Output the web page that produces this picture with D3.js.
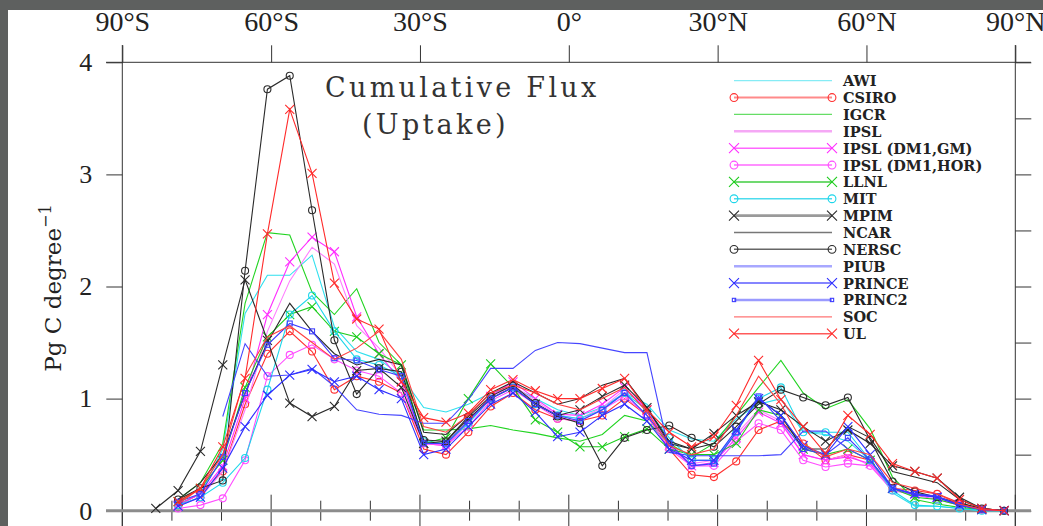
<!DOCTYPE html>
<html>
<head>
<meta charset="utf-8">
<script src="https://cdn.jsdelivr.net/npm/d3@7"></script>
<style>
  html, body { margin: 0; padding: 0; background: #5e605f; overflow: hidden; }
  svg { display: block; }
</style>
</head>
<body>
<div id="chart"></div>
<script>

// Latitude bin centres (4.5 degree bins).
const LATS = [-87.75, -83.25, -78.75, -74.25, -69.75, -65.25, -60.75, -56.25, -51.75, -47.25,
              -42.75, -38.25, -33.75, -29.25, -24.75, -20.25, -15.75, -11.25, -6.75, -2.25,
              2.25, 6.75, 11.25, 15.75, 20.25, 24.75, 29.25, 33.75, 38.25, 42.75,
              47.25, 51.75, 56.25, 60.75, 65.25, 69.75, 74.25, 78.75, 83.25, 87.75];

const MODELS = ["AWI", "CSIRO", "IGCR", "IPSL", "IPSL (DM1,GM)", "IPSL (DM1,HOR)", "LLNL", "MIT",
                "MPIM", "NCAR", "NERSC", "PIUB", "PRINCE", "PRINC2", "SOC", "UL"];

const MARKERS = ["none", "circle", "none", "none", "x", "circle", "x", "circle",
                 "x", "none", "circle", "none", "x", "square", "none", "x"];

const X_TICKS = [-90, -60, -30, 0, 30, 60, 90];
const X_LABELS = ["90°S", "60°S", "30°S", "0°", "30°N", "60°N", "90°N"];
const Y_TICKS = [0, 1, 2, 3, 4];

// Pg C per degree, one value per latitude bin (null = no data).
const AWI = [null,null,0.06,0.15,0.55,1.76,2.10,2.10,2.28,1.64,1.42,1.35,1.2,0.92,0.88,0.95,1.05,1.1,1.0,0.9,
             0.85,0.92,1.05,0.95,0.72,0.64,0.62,0.82,0.95,1.0,0.7,0.68,0.62,0.45,0.16,0.04,0.04,0.02,0.0,0.0];
const CSIRO = [null,null,0.05,0.15,0.35,0.95,1.4,1.6,1.42,1.08,1.2,1.15,1.05,0.55,0.5,0.7,0.93,1.05,0.9,0.82,
               0.8,0.85,1.0,0.85,0.55,0.32,0.3,0.44,0.72,0.8,0.6,0.45,0.5,0.45,0.2,0.18,0.15,0.07,0.01,0.0];
const IGCR = [null,null,0.1,0.25,0.6,1.85,2.48,2.46,1.95,1.75,1.98,1.5,1.3,0.72,0.72,0.73,0.76,0.72,0.69,0.65,
              0.62,0.68,0.85,0.8,0.6,0.48,0.6,0.85,1.1,1.34,1.05,0.91,0.99,0.73,0.3,0.1,0.06,0.03,0.01,0.0];
const IPSL = [null,null,0.04,0.12,0.35,0.9,1.6,2.05,2.35,2.2,1.65,1.45,1.2,0.62,0.58,0.78,1.0,1.12,0.98,0.85,
              0.82,0.92,1.08,0.92,0.6,0.42,0.45,0.68,0.9,0.8,0.5,0.45,0.5,0.4,0.2,0.14,0.12,0.05,0.01,0.0];
const IPSL_GM = [null,null,0.05,0.15,0.4,1.0,1.75,2.22,2.44,2.31,1.73,1.4,1.15,0.6,0.58,0.8,1.02,1.15,1.0,0.86,
                 0.85,0.95,1.1,0.9,0.58,0.4,0.43,0.65,0.88,0.78,0.5,0.45,0.48,0.42,0.2,0.15,0.12,0.06,0.01,0.0];
const IPSL_HOR = [null,null,0.02,0.05,0.11,0.45,1.2,1.39,1.48,1.35,1.25,1.2,1.05,0.6,0.58,0.75,0.98,1.08,0.95,0.82,
                  0.8,0.9,1.02,0.85,0.55,0.4,0.4,0.62,0.78,0.72,0.45,0.39,0.42,0.4,0.18,0.14,0.1,0.05,0.01,0.0];
const LLNL = [null,null,0.08,0.2,0.45,1.1,1.55,1.75,1.82,1.6,1.55,1.4,1.3,0.6,0.65,1.0,1.31,1.1,0.81,0.7,
              0.57,0.57,0.66,0.73,0.55,0.5,0.5,0.6,0.9,0.85,0.55,0.5,0.55,0.45,0.2,0.12,0.1,0.05,0.01,0.0];
const MIT = [null,null,0.05,0.12,0.25,0.47,1.08,1.75,1.92,1.6,1.35,1.3,1.2,0.62,0.6,0.78,1.0,1.1,0.95,0.85,
             0.82,0.9,1.05,0.9,0.65,0.45,0.45,0.7,1.0,1.1,0.7,0.7,0.7,0.45,0.18,0.05,0.04,0.02,0.0,0.0];
const MPIM = [null,0.02,0.18,0.53,1.30,2.06,1.52,0.96,0.84,0.93,1.25,1.27,1.1,0.6,0.62,0.82,1.0,1.1,0.95,0.85,
              0.9,1.02,1.12,0.92,0.62,0.55,0.69,0.85,0.97,0.9,0.75,0.62,0.72,0.6,0.4,0.35,0.29,0.12,0.02,0.0];
const NCAR = [null,null,0.1,0.25,0.5,1.05,1.5,1.85,1.6,1.4,1.3,1.35,1.3,0.7,0.68,0.85,1.05,1.15,1.05,0.95,
              1.0,1.12,1.18,0.92,0.6,0.55,0.6,0.8,1.0,0.85,0.55,0.55,0.75,0.65,0.35,0.3,0.25,0.1,0.02,0.0];
const NERSC = [null,null,0.1,0.2,0.27,2.14,3.76,3.88,2.68,1.52,1.04,1.27,1.24,0.63,0.62,0.84,1.02,1.12,0.96,0.84,
               0.78,0.40,0.65,0.72,0.76,0.65,0.57,0.75,0.95,1.08,1.01,0.94,1.01,0.63,0.26,0.17,0.12,0.07,0.02,0.0];
const PIUB = [null,null,null,null,0.84,1.49,1.2,1.21,1.27,1.11,0.9,0.86,0.85,0.78,0.78,0.99,1.27,1.27,1.43,1.5,
              1.49,1.45,1.41,1.41,0.52,0.49,0.49,0.49,0.49,0.5,0.71,0.71,0.55,0.45,0.2,0.14,0.12,0.05,0.01,0.0];
const PRINCE = [null,null,0.04,0.12,0.38,0.75,1.03,1.21,1.26,1.15,1.2,1.08,1.0,0.5,0.55,0.75,0.95,1.05,0.88,0.66,
                0.7,0.85,0.95,0.8,0.55,0.45,0.45,0.72,1.0,0.85,0.58,0.5,0.75,0.5,0.2,0.15,0.12,0.05,0.01,0.0];
const PRINC2 = [null,null,0.08,0.15,0.48,1.05,1.48,1.67,1.6,1.36,1.34,1.26,1.2,0.6,0.6,0.8,1.0,1.1,0.95,0.85,
                0.8,0.9,1.05,0.85,0.6,0.4,0.42,0.7,1.02,0.8,0.55,0.5,0.65,0.45,0.2,0.15,0.13,0.05,0.01,0.0];
const SOC = [null,null,0.06,0.2,0.5,1.2,1.55,1.65,1.5,1.35,1.45,1.6,1.35,0.75,0.7,0.85,1.05,1.12,1.05,0.95,
             0.9,1.0,1.1,0.88,0.58,0.5,0.55,0.85,1.2,0.95,0.6,0.48,0.55,0.5,0.25,0.2,0.15,0.06,0.01,0.0];
const UL = [null,null,0.08,0.2,0.57,1.18,2.47,3.58,3.01,2.03,1.71,1.62,1.15,0.83,0.79,0.87,1.08,1.17,1.07,1.0,
            1.0,1.09,1.18,0.9,0.7,0.57,0.66,0.94,1.34,0.99,0.75,0.51,0.85,0.68,0.42,0.35,0.29,0.1,0.02,0.0];

const SERIES = [AWI, CSIRO, IGCR, IPSL, IPSL_GM, IPSL_HOR, LLNL, MIT, MPIM, NCAR, NERSC, PIUB, PRINCE, PRINC2, SOC, UL];

const WIDTH = 1043;
const HEIGHT = 526;

// colours: plot line, legend line, legend line width
const COLORS = ["#2fe0ee", "#ff3030", "#22d422", "#ff7cff", "#ff2eff", "#ff4cff", "#1ccc1c", "#1cd6ea",
                "#2a2a2a", "#2a2a2a", "#2a2a2a", "#4646ff", "#2e2eff", "#3d3dff", "#ff4040", "#ff2a2a"];
const LEG_COLORS = ["#86ecf5", "#ff8a8a", "#66dd66", "#f5a8f5", "#ff66ff", "#ff6aff", "#40cc40", "#4cdcee",
                    "#9a9a9a", "#777777", "#666666", "#a8a8ff", "#5c5cff", "#9a9aff", "#ff7474", "#ff5a5a"];
const LEG_WIDTHS = [1.3, 2, 1.3, 2.5, 1.5, 1.5, 1.5, 1.5, 2.8, 1.3, 1.5, 2.5, 1.5, 2.6, 1.3, 1.5];


window.onload = function() {

    var svg = d3.select("#chart").append("svg")
                .attr("width", WIDTH)
                .attr("height", HEIGHT);

    // white paper inside the dark frame
    svg.append("rect")
       .attr("x", 8).attr("y", 10)
       .attr("width", WIDTH - 8).attr("height", HEIGHT - 10)
       .attr("fill", "#ffffff");

    var x = d3.scaleLinear().domain([-90, 90]).range([122.3, 1015.3]);
    var y = d3.scaleLinear().domain([0, 4]).range([510.7, 62.3]);

    var tickColor = "#333";

    // ---- top axis (labels + ticks going up)
    var top = svg.append("g").attr("transform", "translate(0," + y(4) + ")");
    top.call(d3.axisTop(x).tickValues(d3.range(-90, 91, 10)).tickSize(9).tickFormat(""));
    top.call(d3.axisTop(x).tickValues(X_TICKS).tickSize(17).tickPadding(14)
            .tickFormat(function (d, i) { return X_LABELS[i]; }));
    top.selectAll(".domain").remove();
    top.selectAll("line").attr("stroke", tickColor);
    top.selectAll("text")
       .attr("font-family", "Liberation Serif")
       .attr("font-size", "28px")
       .attr("fill", "#222");

    // ---- bottom ticks crossing the zero line
    var bottom = svg.append("g").attr("transform", "translate(0," + y(0) + ")");
    bottom.selectAll("line.minor")
          .data(d3.range(-80, 90, 10).filter(function (d) { return d % 30 != 0; }))
          .enter().append("line")
          .attr("x1", function (d) { return x(d); }).attr("x2", function (d) { return x(d); })
          .attr("y1", -10).attr("y2", 10)
          .attr("stroke", tickColor);
    bottom.selectAll("line.major")
          .data(X_TICKS)
          .enter().append("line")
          .attr("x1", function (d) { return x(d); }).attr("x2", function (d) { return x(d); })
          .attr("y1", -16).attr("y2", 16)
          .attr("stroke", tickColor);

    // ---- left axis
    var left = svg.append("g").attr("transform", "translate(" + x(-90) + ",0)");
    left.call(d3.axisLeft(y).tickValues(d3.range(0, 40).map(function (d) { return d / 10; })).tickSize(9).tickFormat(""));
    left.call(d3.axisLeft(y).tickValues([0.5, 1.5, 2.5, 3.5]).tickSize(16).tickFormat(""));
    left.call(d3.axisLeft(y).tickValues(Y_TICKS).tickSize(16).tickPadding(14).tickFormat(d3.format("d")));
    left.selectAll(".domain").remove();
    left.selectAll("line").attr("stroke", tickColor);
    left.selectAll("text")
        .attr("font-family", "Liberation Serif")
        .attr("font-size", "26px")
        .attr("fill", "#222");

    // ---- right axis (ticks outward)
    var right = svg.append("g").attr("transform", "translate(" + x(90) + ",0)");
    right.call(d3.axisRight(y).tickValues(d3.range(0, 40).map(function (d) { return d / 10; })).tickSize(7).tickFormat(""));
    right.call(d3.axisRight(y).tickValues([0, 0.5, 1, 1.5, 2, 2.5, 3, 3.5, 4]).tickSize(16).tickFormat(""));
    right.selectAll(".domain").remove();
    right.selectAll("line").attr("stroke", tickColor);

    // frame lines, overhanging like the original
    svg.append("line")
       .attr("x1", 106).attr("x2", 1031).attr("y1", y(4)).attr("y2", y(4))
       .attr("stroke", tickColor);
    svg.append("line")
       .attr("x1", x(-90)).attr("x2", x(-90)).attr("y1", 45).attr("y2", HEIGHT)
       .attr("stroke", tickColor);
    svg.append("line")
       .attr("x1", x(90)).attr("x2", x(90)).attr("y1", 45).attr("y2", HEIGHT)
       .attr("stroke", tickColor);
    svg.append("line")
       .attr("x1", 106).attr("x2", 1031).attr("y1", y(0)).attr("y2", y(0))
       .attr("stroke", "#8c8c8c")
       .attr("stroke-width", 3);

    // ---- y axis title
    var ytitle = svg.append("text")
                    .attr("transform", "translate(61,288) rotate(-90)")
                    .attr("text-anchor", "middle")
                    .attr("font-family", "DejaVu Serif")
                    .attr("font-size", "23px")
                    .attr("fill", "#222");
    ytitle.append("tspan").text("Pg C degree");
    ytitle.append("tspan").attr("dy", -10).attr("font-size", "16px").text("\u22121");

    // ---- title
    svg.append("text")
       .attr("x", 325).attr("y", 97)
       .attr("font-family", "DejaVu Serif")
       .attr("font-size", "27px")
       .attr("letter-spacing", "3.3px")
       .attr("fill", "#333")
       .text("Cumulative Flux");
    svg.append("text")
       .attr("x", 362).attr("y", 134)
       .attr("font-family", "DejaVu Serif")
       .attr("font-size", "27px")
       .attr("letter-spacing", "3.3px")
       .attr("fill", "#333")
       .text("(Uptake)");

    // ---- markers
    function drawMarker(g, kind, cx, cy, color, size) {
        if (kind == "circle") {
            g.append("circle").attr("cx", cx).attr("cy", cy).attr("r", size * 0.78)
             .attr("fill", "none").attr("stroke", color).attr("stroke-width", 1.1);
        } else if (kind == "x") {
            g.append("path")
             .attr("d", "M" + (cx - size) + "," + (cy - size) + "L" + (cx + size) + "," + (cy + size) +
                        "M" + (cx - size) + "," + (cy + size) + "L" + (cx + size) + "," + (cy - size))
             .attr("fill", "none").attr("stroke", color).attr("stroke-width", 1.1);
        } else if (kind == "square") {
            g.append("rect").attr("x", cx - size * 0.55).attr("y", cy - size * 0.55)
             .attr("width", size * 1.1).attr("height", size * 1.1)
             .attr("fill", "none").attr("stroke", color).attr("stroke-width", 1.1);
        }
    }

    // ---- series
    var line = d3.line()
                 .defined(function (d) { return d != null; })
                 .x(function (d, i) { return x(LATS[i]); })
                 .y(function (d) { return y(d); });

    var plot = svg.append("g");
    SERIES.forEach(function (values, k) {
        var g = plot.append("g");
        g.append("path")
         .attr("d", line(values))
         .attr("fill", "none")
         .attr("stroke", COLORS[k])
         .attr("stroke-width", 1.1);
        values.forEach(function (v, i) {
            if (v == null) return;
            drawMarker(g, MARKERS[k], x(LATS[i]), y(v), COLORS[k], 4.5);
        });
    });

    // ---- legend
    var legendY = d3.scaleLinear().domain([0, MODELS.length - 1]).range([80.7, 333.7]);
    var legend = svg.append("g");
    MODELS.forEach(function (name, k) {
        var ly = legendY(k);
        legend.append("line")
              .attr("x1", 734).attr("x2", 832).attr("y1", ly).attr("y2", ly)
              .attr("stroke", LEG_COLORS[k])
              .attr("stroke-width", LEG_WIDTHS[k]);
        drawMarker(legend, MARKERS[k], 734, ly, COLORS[k], MARKERS[k] == "square" ? 3 : 5);
        drawMarker(legend, MARKERS[k], 832, ly, COLORS[k], MARKERS[k] == "square" ? 3 : 5);
        legend.append("text")
              .attr("x", 843).attr("y", ly + 5.5)
              .attr("font-family", "DejaVu Serif")
              .attr("font-weight", "bold")
              .attr("font-size", "14.5px")
              .attr("fill", "#222")
              .text(name);
    });
};

</script>
</body>
</html>
